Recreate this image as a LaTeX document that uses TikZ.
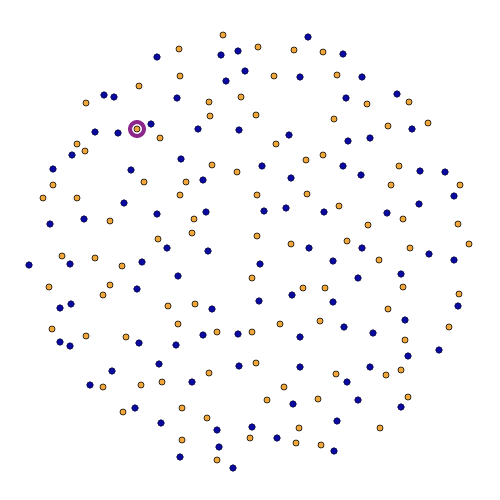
\documentclass[tikz,border=0pt]{standalone}
\usetikzlibrary{backgrounds}
\definecolor{dotorange}{RGB}{240,168,60}
\definecolor{dotblue}{RGB}{10,10,160}
\definecolor{ringpurple}{RGB}{140,40,140}
\tikzset{
  odot/.style={circle,draw=black,line width=0.6pt,fill=dotorange,minimum size=6.2pt,inner sep=0pt},
  bdot/.style={circle,draw=black!70!dotblue,line width=0.5pt,fill=dotblue,minimum size=6.6pt,inner sep=0pt},
  ring/.style={circle,draw=ringpurple,line width=4pt,minimum size=14pt,inner sep=0pt}
}
\begin{document}
\begin{tikzpicture}[x=1pt,y=-1pt]
\useasboundingbox[fill=white] (0,0) rectangle (500,500);
\node[ring] (hl) at (137,129) {};
\node[odot] (hlc) at (137,129) {};
% orange dots
\foreach \x/\y [count=\i] in {
223/35,179/49,180/76,139/86,86/103,209/102,241/97,210/116,160/138,77/144,85/151,
212/165,237/172,53/185,144/182,186/182,43/198,77/198,180/195,110/221,194/219,192/233,158/239,
258/47,294/50,323/52,274/76,337/75,367/104,409/102,256/115,334/119,388/126,428/123,276/144,
323/155,306/160,399/166,391/185,460/185,257/195,307/194,339/206,403/219,368/225,458/224,
257/236,291/244,347/241,410/248,469/244,
62/256,95/258,122/266,49/287,110/285,103/295,168/306,195/304,178/324,52/329,86/336,126/337,
217/332,209/373,103/387,141/385,162/382,123/412,182/408,207/418,182/440,217/460,
379/260,252/278,303/288,325/288,403/287,459/294,388/309,320/321,280/324,449/327,252/332,
405/340,256/363,336/374,386/375,401/370,284/387,267/400,318/399,408/397,380/428,299/428,
250/438,296/443,321/445}
  \node[odot] (o\i) at (\x,\y) {};
% blue dots
\foreach \x/\y [count=\i] in {
157/57,221/55,238/51,245/71,226/81,104/95,114/97,177/98,151/124,95/132,118/133,198/129,
239/130,72/155,181/159,53/169,131/170,203/180,124/203,50/224,84/219,157/214,206/212,
167/248,208/251,
308/37,343/54,300/77,362/77,346/98,397/94,412/129,289/135,348/141,370/138,262/166,343/166,
361/175,420/171,445/172,291/178,454/196,264/211,286/208,324/212,419/204,387/213,309/248,
362/248,
29/265,70/264,142/262,178/276,137/289,60/308,71/304,212/309,139/343,60/342,70/346,176/345,
203/335,238/334,159/364,239/366,112/371,90/385,192/382,135/408,161/423,217/430,219/447,
180/457,233/468,
429/254,454/260,260/264,333/261,358/278,401/274,292/295,259/301,333/302,458/306,405/320,
344/327,373/333,300/337,439/350,408/356,300/367,370/367,347/382,293/404,358/400,401/407,
337/421,252/427,277/438,334/451}
  \node[bdot] (b\i) at (\x,\y) {};
\end{tikzpicture}
\end{document}
